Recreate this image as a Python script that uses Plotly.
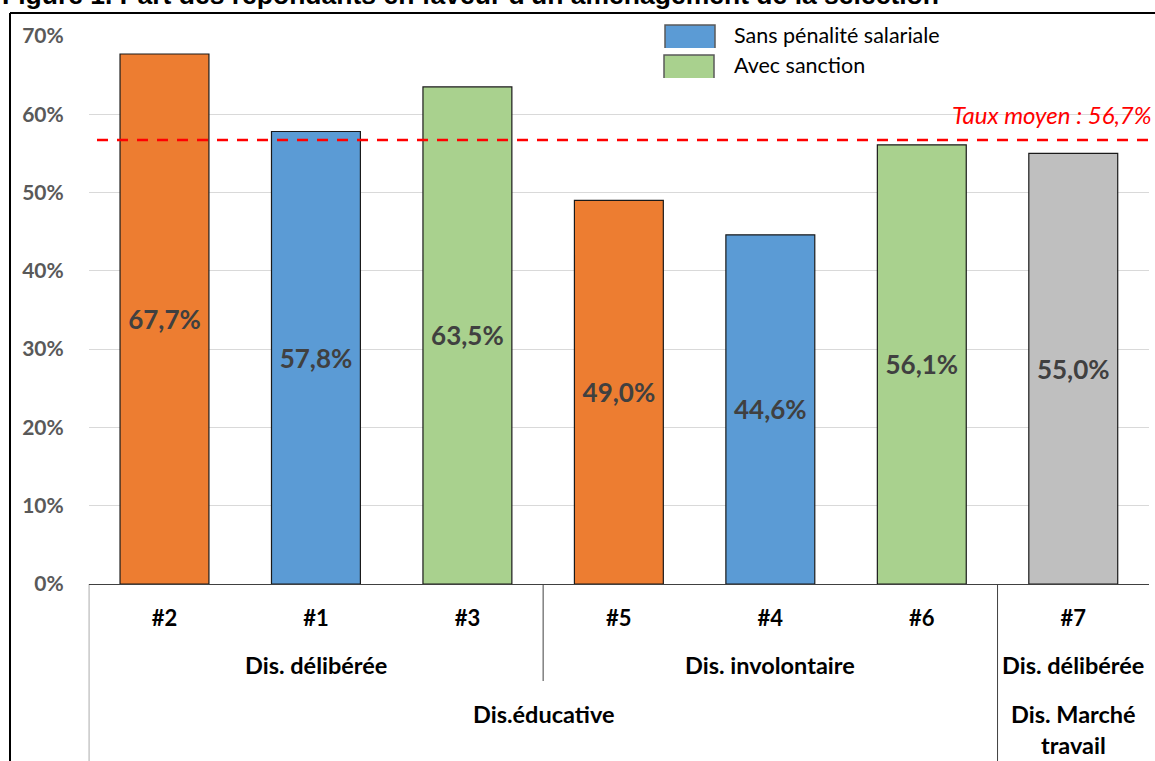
import plotly.graph_objects as go

# Data
scenarios = ["#2", "#1", "#3", "#5", "#4", "#6", "#7"]
shares = [67.7, 57.8, 63.5, 49.0, 44.6, 56.1, 55.0]
bar_colors = ["#ED7D31", "#5B9BD5", "#A9D18E", "#ED7D31", "#5B9BD5", "#A9D18E", "#BFBFBF"]
mean_rate = 56.7
y_ticks = [0, 10, 20, 30, 40, 50, 60, 70]

# second-level groups: (label, first index, last index)
level2 = [("Dis. délibérée", 0, 2), ("Dis. involontaire", 3, 5), ("Dis. délibérée", 6, 6)]
# third-level groups
level3 = [("Dis.éducative", 0, 5), ("Dis. Marché<br>travail", 6, 6)]
legend_items = [("Sans pénalité salariale", "#5B9BD5"), ("Avec sanction", "#A9D18E")]

title = "Figure 1. Part des répondants en faveur d'un aménagement de la sélection"

W, H = 1155, 761
FONT = "Lato"


def px(xp):
    return xp / W


def py(yp):
    return 1 - yp / H


labels = [f"{v:.1f}".replace(".", ",") + "%" for v in shares]

fig = go.Figure()
fig.add_trace(go.Bar(
    x=list(range(len(scenarios))),
    y=shares,
    marker=dict(color=bar_colors, line=dict(color="#1a1a1a", width=1.2)),
    width=0.587,
    text=labels,
    textposition="inside",
    insidetextanchor="middle",
    textangle=0,
    textfont=dict(family=FONT, size=26, color="#404040", weight="bold"),
    showlegend=False,
    hoverinfo="skip",
))

shapes = []
annotations = []

# chart frame (left and top edges)
shapes.append(dict(type="line", xref="paper", yref="paper", x0=px(10), x1=px(10),
                   y0=-0.05, y1=py(13), line=dict(color="#000000", width=2)))
shapes.append(dict(type="line", xref="paper", yref="paper", x0=px(10), x1=1.05,
                   y0=py(13), y1=py(13), line=dict(color="#000000", width=2)))

# category table lines below the axis
shapes.append(dict(type="line", xref="x", yref="paper", x0=-0.5, x1=-0.5,
                   y0=-0.05, y1=py(584), line=dict(color="#404040", width=1)))
shapes.append(dict(type="line", xref="x", yref="paper", x0=2.5, x1=2.5,
                   y0=py(681), y1=py(584), line=dict(color="#404040", width=1)))
shapes.append(dict(type="line", xref="x", yref="paper", x0=5.5, x1=5.5,
                   y0=-0.05, y1=py(584), line=dict(color="#404040", width=1)))

# average line
shapes.append(dict(type="line", xref="paper", yref="y", x0=px(97), x1=1.0,
                   y0=mean_rate, y1=mean_rate,
                   line=dict(color="#FF0000", width=2.5, dash="11px,9px")))
annotations.append(dict(xref="paper", yref="y", x=px(1154), y=mean_rate + 3.3,
                        xanchor="right", yanchor="middle", showarrow=False,
                        text="<i>Taux moyen : 56,7%</i>",
                        font=dict(family=FONT, size=24, color="#FF0000")))

# legend
legend_rows = [(665, 25, 48), (664, 55, 78)]
for (name, col), (lx, ty, by) in zip(legend_items, legend_rows):
    shapes.append(dict(type="rect", xref="paper", yref="paper",
                       x0=px(lx), x1=px(lx + 50), y0=py(by), y1=py(ty),
                       fillcolor=col, line=dict(width=0)))
    shapes.append(dict(type="path", xref="paper", yref="paper",
                       path=f"M {px(lx)},{py(by)} L {px(lx)},{py(ty)} L {px(lx + 50)},{py(ty)} L {px(lx + 50)},{py(by)}",
                       line=dict(color="#595959", width=1.5)))
    annotations.append(dict(xref="paper", yref="paper", x=px(732), y=py((ty + by) / 2 - 2),
                            xanchor="left", yanchor="middle", showarrow=False, text=name,
                            font=dict(family=FONT, size=21.5, color="#000000")))

# group labels
for name, a, b in level2:
    annotations.append(dict(xref="x", yref="paper", x=(a + b) / 2, y=py(665),
                            xanchor="center", yanchor="middle", showarrow=False,
                            text=f"<b>{name}</b>",
                            font=dict(family=FONT, size=23.5, color="#000000")))
for name, a, b in level3:
    yy = py(714) if "<br>" not in name else py(729)
    annotations.append(dict(xref="x", yref="paper", x=(a + b) / 2, y=yy,
                            xanchor="center", yanchor="middle", showarrow=False,
                            text=f"<b>{name}</b>",
                            font=dict(family=FONT, size=23.5, color="#000000")))

# title strip at the very top
annotations.append(dict(xref="paper", yref="paper", x=0, y=py(12),
                        xanchor="left", yanchor="bottom", showarrow=False,
                        text=f"<b>{title}</b>",
                        font=dict(family="Liberation Sans", size=26.5, color="#000000")))

fig.update_layout(
    width=W, height=H,
    margin=dict(l=0, r=0, t=0, b=0, autoexpand=False),
    paper_bgcolor="#FFFFFF",
    plot_bgcolor="#FFFFFF",
    shapes=shapes,
    annotations=annotations,
    xaxis=dict(
        domain=[px(88.75), px(1149)],
        range=[-0.5, 6.5],
        automargin=False,
        tickmode="array",
        tickvals=list(range(len(scenarios))),
        ticktext=[f"<b>{s}</b>" for s in scenarios],
        tickfont=dict(family=FONT, size=22, color="#000000"),
        ticks="",
        ticklabelstandoff=15,
        showline=True, linecolor="#404040", linewidth=1,
        showgrid=False, zeroline=False, fixedrange=True,
    ),
    yaxis=dict(
        domain=[py(584), py(36)],
        range=[0, 70],
        automargin=False,
        tickmode="array",
        tickvals=y_ticks,
        ticktext=[f"<b>{t}%</b>" for t in y_ticks],
        tickfont=dict(family=FONT, size=21, color="#595959"),
        ticks="",
        ticklabelstandoff=24,
        showgrid=True, gridcolor="#D9D9D9", gridwidth=1,
        zeroline=False, showline=False, fixedrange=True,
    ),
)

fig.write_html("out.html", config={"displayModeBar": False})
